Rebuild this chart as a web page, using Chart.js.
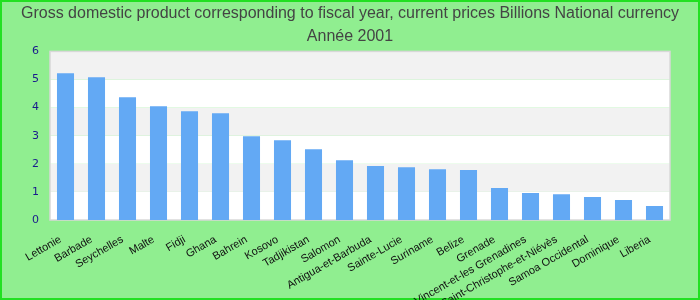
<!DOCTYPE html>
<html>
<head>
<meta charset="utf-8">
<script src="https://cdn.jsdelivr.net/npm/chart.js@4"></script>
<style>
  html, body { margin: 0; padding: 0; background: #90ee90; }
  #wrap { width: 700px; height: 300px; position: relative; }
</style>
</head>
<body>
<div id="wrap"><canvas id="chart" width="700" height="300"></canvas></div>
<script>
// chart data
var countries = ["Lettonie", "Barbade", "Seychelles", "Malte", "Fidji", "Ghana", "Bahrein", "Kosovo",
	"Tadjikistan", "Salomon", "Antigua-et-Barbuda", "Sainte-Lucie", "Suriname", "Belize", "Grenade",
	"Saint-Vincent-et-les Grenadines", "Saint-Christophe-et-Niévès", "Samoa Occidental", "Dominique", "Liberia"];
var gdpValues = [5.22, 5.08, 4.37, 4.05, 3.87, 3.80, 2.98, 2.84, 2.52, 2.13, 1.92, 1.88, 1.81, 1.78,
	1.14, 0.96, 0.92, 0.82, 0.71, 0.50];
var titleLines = ["Gross domestic product corresponding to fiscal year, current prices Billions National currency",
	"Année 2001"];
var yMin = 0;
var yMax = 6;

// page background, green frame, striped plot area
var backdrop = {
	id: "backdrop",
	beforeDraw: function(chart) {
		var ctx = chart.ctx;
		ctx.save();
		ctx.fillStyle = "#90ee90";
		ctx.fillRect(0, 0, chart.width, chart.height);
		ctx.strokeStyle = "#22e022";
		ctx.lineWidth = 2;
		ctx.strokeRect(1, 1, chart.width - 2, chart.height - 2);

		var area = chart.chartArea;
		var y = chart.scales.y;
		for (var v = yMin; v < yMax; v++) {
			var top = y.getPixelForValue(v + 1);
			var bot = y.getPixelForValue(v);
			ctx.fillStyle = (v % 2 === 1) ? "#f2f2f2" : "#ffffff";
			ctx.fillRect(area.left, top, area.right - area.left, bot - top);
		}
		ctx.strokeStyle = "#d8d8d8";
		ctx.lineWidth = 1.5;
		ctx.strokeRect(area.left, area.top, area.right - area.left, area.bottom - area.top);
		ctx.restore();
	}
};

var chart = new Chart(document.getElementById("chart"), {
	type: "bar",
	data: {
		labels: countries,
		datasets: [{
			data: gdpValues,
			backgroundColor: "#63a9f4",
			borderWidth: 0,
			barPercentage: 0.55,
			categoryPercentage: 1.0
		}]
	},
	options: {
		responsive: false,
		animation: false,
		layout: { padding: 0 },
		plugins: {
			legend: { display: false },
			tooltip: { enabled: false },
			title: {
				display: true,
				text: titleLines,
				color: "#444444",
				font: { family: "'Liberation Sans', Arial, sans-serif", size: 16, weight: "normal", lineHeight: 1.45 },
				padding: { top: 2, bottom: 3 }
			}
		},
		scales: {
			x: {
				grid: { display: false },
				border: { display: false },
				ticks: {
					color: "#111111",
					font: { family: "'Liberation Sans', Arial, sans-serif", size: 11 },
					minRotation: 30,
					maxRotation: 30,
					autoSkip: false,
					padding: 5,
					labelOffset: -5
				},
				afterFit: function(scale) { scale.height = 80; }
			},
			y: {
				min: yMin,
				max: yMax,
				grid: { display: false },
				border: { display: false },
				ticks: {
					stepSize: 1,
					color: "#1a1a8c",
					font: { family: "'DejaVu Sans', sans-serif", size: 11 },
					padding: 3
				},
				afterFit: function(scale) { scale.width = 50; }
			},
			// empty right gutter
			gutter: {
				type: "linear",
				position: "right",
				display: true,
				grid: { display: false },
				border: { display: false },
				ticks: { display: false },
				afterFit: function(scale) { scale.width = 30; }
			}
		}
	},
	plugins: [backdrop]
});
</script>
</body>
</html>
